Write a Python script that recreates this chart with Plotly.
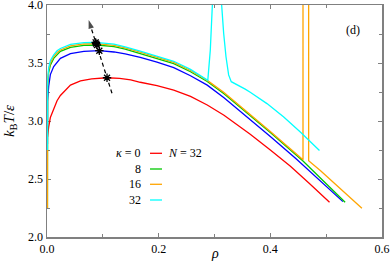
import plotly.graph_objects as go

# ---- data ----
rho_red = [0.0008, 0.001, 0.003, 0.006, 0.012, 0.018, 0.024, 0.042, 0.06, 0.08, 0.107, 0.13, 0.15, 0.167, 0.197, 0.227, 0.257, 0.287, 0.317, 0.346, 0.364, 0.40, 0.436, 0.47, 0.506]
T_red = [2.86, 2.88, 2.95, 3.03, 3.11, 3.175, 3.22, 3.31, 3.345, 3.363, 3.373, 3.368, 3.355, 3.334, 3.305, 3.267, 3.212, 3.138, 3.05, 2.951, 2.886, 2.75, 2.61, 2.462, 2.30]

rho_blue = [0.0008, 0.001, 0.003, 0.006, 0.012, 0.018, 0.024, 0.042, 0.066, 0.094, 0.12, 0.14, 0.167, 0.197, 0.227, 0.257, 0.287, 0.317, 0.346, 0.364, 0.40, 0.4466, 0.49, 0.530]
T_blue = [2.80, 3.17, 3.30, 3.40, 3.47, 3.51, 3.54, 3.58, 3.60, 3.606, 3.595, 3.578, 3.549, 3.508, 3.46, 3.39, 3.309, 3.20, 3.085, 3.013, 2.866, 2.672, 2.484, 2.305]

rho_green = [0.0008, 0.001, 0.003, 0.006, 0.012, 0.018, 0.024, 0.042, 0.066, 0.09, 0.12, 0.14, 0.167, 0.197, 0.227, 0.257, 0.287, 0.317, 0.346, 0.364, 0.40, 0.4585, 0.50, 0.534]
T_green = [2.25, 3.30, 3.42, 3.48, 3.54, 3.575, 3.60, 3.635, 3.652, 3.655, 3.642, 3.62, 3.583, 3.54, 3.495, 3.425, 3.34, 3.235, 3.118, 3.045, 2.90, 2.655, 2.462, 2.30]

rho_orange = [0.0008, 0.001, 0.003, 0.006, 0.012, 0.018, 0.024, 0.042, 0.066, 0.088, 0.12, 0.14, 0.167, 0.197, 0.227, 0.257, 0.287, 0.317, 0.346, 0.364, 0.40, 0.4585, 0.4585, 0.4686, 0.4686, 0.49, 0.513, 0.54, 0.564]
T_orange = [2.25, 3.32, 3.44, 3.50, 3.555, 3.59, 3.612, 3.647, 3.664, 3.667, 3.652, 3.63, 3.593, 3.55, 3.505, 3.435, 3.35, 3.245, 3.128, 3.055, 2.91, 2.665, 4.6, 4.6, 2.658, 2.572, 2.47, 2.35, 2.247]

rho_cyan = [0.0008, 0.001, 0.003, 0.006, 0.012, 0.018, 0.024, 0.042, 0.066, 0.087, 0.12, 0.14, 0.167, 0.197, 0.227, 0.257, 0.288, 0.2925, 0.2966, 0.299, 0.3105, 0.3128, 0.3164, 0.3206, 0.3253, 0.330, 0.355, 0.364, 0.394, 0.424, 0.4537, 0.488]
T_cyan = [2.75, 3.34, 3.46, 3.52, 3.57, 3.605, 3.625, 3.66, 3.675, 3.678, 3.662, 3.64, 3.603, 3.56, 3.515, 3.445, 3.35, 3.612, 4.0, 4.3, 4.3, 4.0, 3.756, 3.554, 3.397, 3.339, 3.275, 3.248, 3.150, 3.035, 2.905, 2.745]

# critical points (stars)
rho_star = [0.1075, 0.0937, 0.0895, 0.088, 0.0871]
T_star = [3.373, 3.606, 3.655, 3.667, 3.678]

# dashed guide arrow (tail, head)
arrow_rho = [0.1164, 0.0746]
arrow_T = [3.239, 3.87]

kappa_labels = ["<i>κ</i> = 0", "8", "16", "32"]
kappa_colors = ["#ff0000", "#00c800", "#ffa500", "#00ffff"]
N_label = "<i>N</i> = 32"

x_ticks = [0.0, 0.2, 0.4, 0.6]
y_ticks = [2.0, 2.5, 3.0, 3.5, 4.0]

FONT = "Liberation Serif, Times New Roman, serif"
AX = "#808080"

fig = go.Figure()
series = [
    (rho_red, T_red, "#ff0000"),
    (rho_blue, T_blue, "#0000ff"),
    (rho_green, T_green, "#00c800"),
    (rho_orange, T_orange, "#ffa500"),
    (rho_cyan, T_cyan, "#00ffff"),
]
for xs, ys, c in series:
    fig.add_trace(go.Scatter(x=xs, y=ys, mode="lines", line=dict(color=c, width=1.3),
                             showlegend=False, hoverinfo="skip"))

fig.add_trace(go.Scatter(x=arrow_rho, y=arrow_T, mode="lines+markers",
                         line=dict(color="black", width=1.2, dash="4px,3px"),
                         marker=dict(symbol=["circle", "arrow"], size=[0, 9], color="black",
                                     angleref="previous", line=dict(width=0)),
                         showlegend=False, hoverinfo="skip"))
fig.add_trace(go.Scatter(x=rho_star, y=T_star, mode="markers",
                         marker=dict(symbol="asterisk-open", size=7, color="black",
                                     line=dict(color="black", width=1.3)),
                         showlegend=False, hoverinfo="skip"))

# legend built manually (gnuplot style: text, then line sample)
leg_x_text = 0.2866
leg_x0, leg_x1 = 0.3075, 0.3433
leg_rows = [0.3608, 0.2931, 0.2272, 0.1595]
for lab, col, yy in zip(kappa_labels, kappa_colors, leg_rows):
    fig.add_annotation(x=leg_x_text, y=yy, xref="paper", yref="paper", text=lab,
                       showarrow=False, xanchor="right", yanchor="middle",
                       font=dict(family=FONT, size=12, color="black"))
    fig.add_shape(type="line", xref="paper", yref="paper", x0=leg_x0, x1=leg_x1,
                  y0=yy, y1=yy, line=dict(color=col, width=1.3))
fig.add_annotation(x=0.3552, y=leg_rows[0], xref="paper", yref="paper", text=N_label,
                   showarrow=False, xanchor="left", yanchor="middle",
                   font=dict(family=FONT, size=12, color="black"))

fig.add_annotation(x=0.940, y=0.931, xref="paper", yref="paper", text="(d)",
                   showarrow=False, font=dict(family=FONT, size=12, color="black"))

# axis titles
fig.add_annotation(x=0.5, y=-0.112, xref="paper", yref="paper", text="<i>ρ</i>",
                   showarrow=False, font=dict(family=FONT, size=14, color="black"))
fig.add_annotation(x=-0.143, y=0.5, xref="paper", yref="paper",
                   text="<i>k</i><sub>B</sub><i>T</i>/<i>ε</i>", textangle=-90,
                   showarrow=False, font=dict(family=FONT, size=15, color="black"))

axis_common = dict(showgrid=False, zeroline=False, showline=True, linecolor=AX, linewidth=1.5,
                   ticks="inside", ticklen=4, tickcolor=AX, tickwidth=1, mirror="ticks",
                   tickfont=dict(family=FONT, size=12, color="black"), layer="below traces",
                   automargin=False, ticklabeloverflow="allow")
fig.update_xaxes(range=[0, 0.6], tickvals=x_ticks, tickformat=".1f",
                 minor=dict(ticks="inside", dtick=0.1, ticklen=3, tickcolor=AX), **axis_common)
fig.update_yaxes(range=[2.0, 4.0], tickvals=y_ticks, tickformat=".1f",
                 minor=dict(ticks="inside", dtick=0.25, ticklen=3, tickcolor=AX), **axis_common)

fig.update_layout(template="none", width=392, height=270, margin=dict(l=47, r=10, t=5, b=33),
                  plot_bgcolor="white", paper_bgcolor="white", showlegend=False)

fig.write_html("out.html", config={"displayModeBar": False, "staticPlot": True},
               post_script="document.body.style.margin='0px';document.body.style.padding='0px';")
